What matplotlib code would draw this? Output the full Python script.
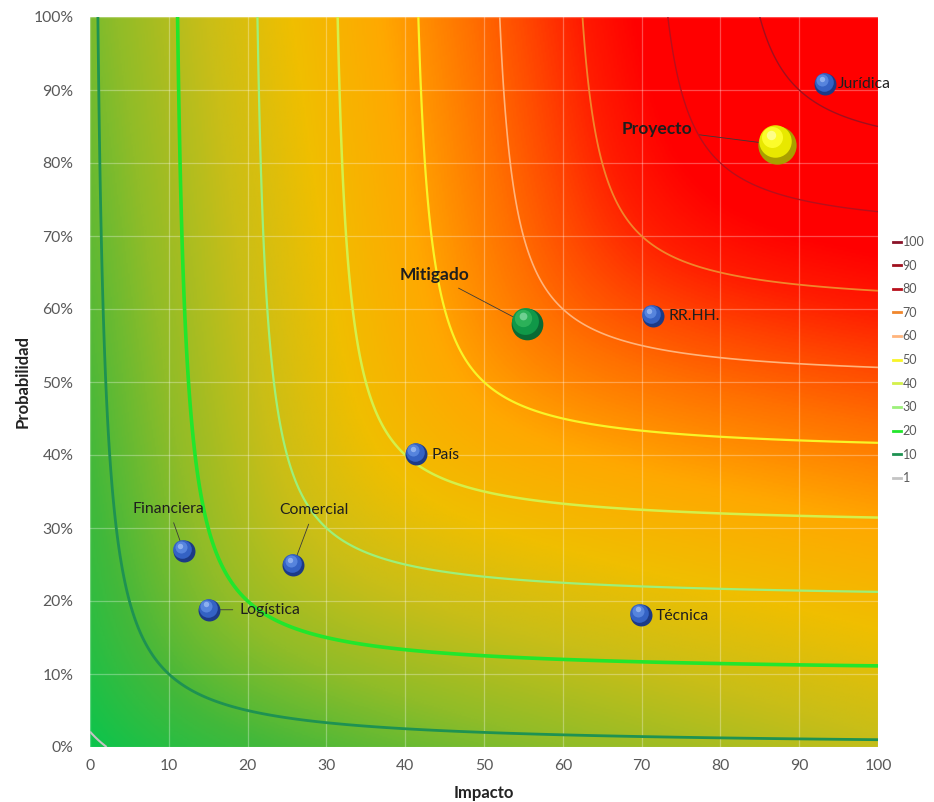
import numpy as np
import matplotlib
matplotlib.use("Agg")
import matplotlib.pyplot as plt
from matplotlib.colors import LinearSegmentedColormap
from matplotlib.lines import Line2D
from matplotlib.transforms import offset_copy

plt.rcParams['font.family'] = ['Lato', 'DejaVu Sans']

# risks: impact (0-100) and probability (%)
names = ['Jurídica', 'Proyecto', 'Mitigado', 'RR.HH.', 'País',
         'Financiera', 'Comercial', 'Logística', 'Técnica']
impact = [93.3, 87.2, 55.5, 71.4, 41.4, 11.9, 25.8, 15.1, 69.9]
prob = [90.8, 82.5, 57.9, 59.0, 40.1, 26.8, 24.9, 18.8, 18.1]
kind = ['risk', 'total', 'mitigated', 'risk', 'risk', 'risk', 'risk', 'risk', 'risk']

# iso-risk levels shown in the legend
levels = [1, 10, 20, 30, 40, 50, 60, 70, 80, 90, 100]
level_colors = ['#c4c4c4', '#1e9252', '#22e62c', '#9cf07a', '#d4f04a', '#f8f428',
                '#ffb47c', '#f0862c', '#b8101c', '#a0101e', '#8a1228']
level_widths = [1.5, 2.0, 2.6, 1.6, 1.8, 1.6, 1.2, 1.3, 1.0, 1.0, 1.0]

# label positions (text anchor) and alignment
label_pos = [(94.9, 90.8), (72.0, 84.6), (43.7, 64.6), (73.4, 59.0), (43.3, 40.0),
             (10.0, 32.6), (28.4, 32.4), (19.0, 18.8), (71.8, 17.9)]
label_ha = ['left', 'center', 'center', 'left', 'left', 'center', 'center', 'left', 'left']
label_bold = [False, True, True, False, False, False, False, False, False]
leader = [False, True, True, False, False, True, True, True, False]

fig = plt.figure(figsize=(9.34, 8.02), dpi=100)
ax = fig.add_axes([90 / 934, 1 - 747 / 802, 788 / 934, 730 / 802])

# risk field: curves (x - (L-10)) * (y - (L-10)) = 100
gx = np.linspace(0, 100, 501)
X, Y = np.meshgrid(gx, gx)
Z = 10 + (X + Y - np.sqrt((X - Y) ** 2 + 400)) / 2
T = 0.8 * Z + 0.2 * (X + Y) / 2 + 12 * (X / 100) * (1 - Y / 100) ** 2

cmap = LinearSegmentedColormap.from_list('riesgo', [
    (0.00, '#0cc44c'), (0.10, '#44b83a'), (0.20, '#90bc28'), (0.30, '#c8be18'),
    (0.40, '#f0be00'), (0.50, '#ffa800'), (0.60, '#ff7000'), (0.66, '#ff4800'),
    (0.72, '#ff1c00'), (0.78, '#ff0000'), (1.00, '#ff0000')])
ax.imshow(T, extent=[0, 100, 0, 100], origin='lower', aspect='auto',
          cmap=cmap, vmin=0, vmax=100, interpolation='bilinear', zorder=0)

ax.contour(X, Y, Z, levels=levels, colors=level_colors, linewidths=level_widths, zorder=3)

ax.set_xlim(0, 100)
ax.set_ylim(0, 100)
ax.set_xticks(range(0, 101, 10))
ax.set_yticks(range(0, 101, 10))
ax.set_yticklabels([f'{v}%' for v in range(0, 101, 10)])
ax.tick_params(length=0, labelsize=11.3, labelcolor='#595959')
ax.tick_params(axis='y', pad=12)
ax.tick_params(axis='x', pad=9)
ax.grid(True, color='white', alpha=0.3, lw=0.9)
ax.set_axisbelow(False)
for s in ax.spines.values():
    s.set_visible(False)

ax.set_xlabel('Impacto', fontsize=12, fontweight='bold', color='#222222', labelpad=8)
ax.set_ylabel('Probabilidad', fontsize=12, fontweight='bold', color='#222222', labelpad=2)

# bubbles with a simple 3D look
styles = {
    'risk': (250, ['#1c3a86', '#3462c4', '#5a88e0', '#9cbcf4']),
    'total': (760, ['#a8a000', '#e8e800', '#ffff30', '#ffffa0']),
    'mitigated': (520, ['#0a6a34', '#109848', '#30b45c', '#80d8a0']),
}
for x, y, k in zip(impact, prob, kind):
    size, cols = styles[k]
    r = np.sqrt(size) / 2
    ax.scatter(x, y, s=size, color=cols[0], zorder=5, lw=0)
    t1 = offset_copy(ax.transData, fig=fig, x=-0.12 * r, y=0.18 * r, units='points')
    ax.scatter(x, y, s=size * 0.72, color=cols[1], zorder=6, lw=0, transform=t1)
    t2 = offset_copy(ax.transData, fig=fig, x=-0.25 * r, y=0.38 * r, units='points')
    ax.scatter(x, y, s=size * 0.3, color=cols[2], zorder=7, lw=0, transform=t2, alpha=0.9)
    t3 = offset_copy(ax.transData, fig=fig, x=-0.3 * r, y=0.5 * r, units='points')
    ax.scatter(x, y, s=size * 0.06, color=cols[3], zorder=8, lw=0, transform=t3, alpha=0.8)

for i, name in enumerate(names):
    props = dict(arrowstyle='-', color='#3a3a3a', lw=0.6, shrinkA=3, shrinkB=4) if leader[i] else None
    ax.annotate(name, xy=(impact[i], prob[i]), xytext=label_pos[i],
                ha=label_ha[i], va='center', fontsize=12.5 if label_bold[i] else 11.3,
                fontweight='bold' if label_bold[i] else 'normal', color='#1e1e1e',
                arrowprops=props, zorder=4)

handles = [Line2D([0], [0], color=c, lw=2) for c in level_colors]
leg = ax.legend(handles[::-1], [str(v) for v in levels[::-1]], loc='center left',
                bbox_to_anchor=(1.005, 0.53), frameon=False, fontsize=9,
                handlelength=0.6, handletextpad=0.15, labelspacing=0.93,
                labelcolor='#595959')

fig.savefig('out.png', dpi=100)
